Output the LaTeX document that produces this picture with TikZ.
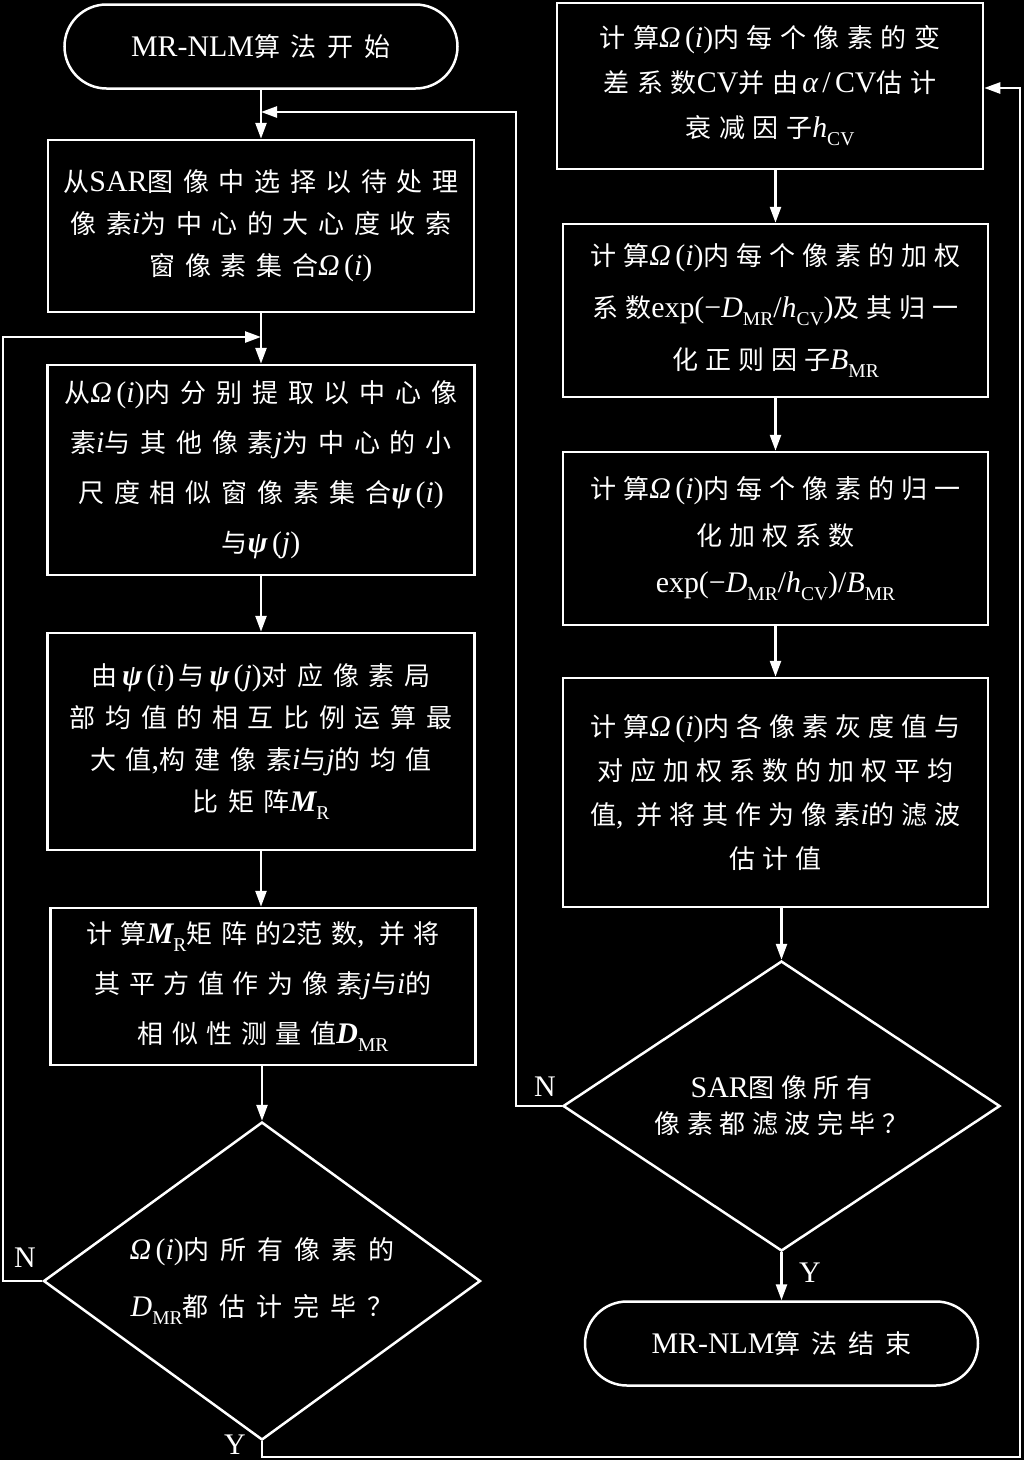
\documentclass[tikz,border=0pt]{standalone}
\usepackage{fontspec}
\usetikzlibrary{arrows.meta,shapes.geometric,shapes.misc}
\setmainfont{Noto Sans CJK SC}[LetterSpace=33]
\newfontfamily\lsA{Noto Sans CJK SC}[LetterSpace=25]
\newfontfamily\lsB{Noto Sans CJK SC}[LetterSpace=27]
\newfontfamily\lsC{Noto Sans CJK SC}[LetterSpace=29]
\newfontfamily\lsD{Noto Sans CJK SC}[LetterSpace=33]
\newfontfamily\lsE{Noto Sans CJK SC}[LetterSpace=37]
\newfontfamily\lsF{Noto Sans CJK SC}[LetterSpace=38]
\newfontfamily\lsG{Noto Sans CJK SC}[LetterSpace=42]
\newfontfamily\enfont{Liberation Serif}[Scale=1.15]
\newcommand\en[1]{{\enfont #1}}
\newcommand\mi[1]{{\enfont\itshape #1}}
\newcommand\mbi[1]{{\enfont\bfseries\itshape #1}}
\newcommand\sub[1]{\raisebox{-0.3em}{\enfont\fontsize{17}{18}\selectfont #1}}
\newcommand\Oi{\mi{Ω}\,\en{(}\mi{i}\en{)}}
\newcommand\fsz[1]{\fontsize{26}{#1}\selectfont}
\newcommand\ExpD{\en{exp(−}\mi{D}\sub{MR}\en{/}\mi{h}\sub{CV}\en{)}}
\tikzset{
  proc/.style={draw=white, rectangle, align=center, inner sep=0pt, text=white},
  term/.style={draw=white, rounded rectangle, minimum width=393pt, minimum height=84pt, inner sep=0pt, text=white, font=\lsG\fsz{30}},
  dec/.style={draw=white, diamond, align=center, inner sep=0pt, text=white},
  lab/.style={text=white, inner sep=0pt, font=\enfont\fsz{28}},
  conn/.style={draw=white, ->},
}
\begin{document}
\begin{tikzpicture}[x=1pt,y=-1pt,line width=2.5pt,>={Triangle[length=16pt,width=11pt]}]
\useasboundingbox (0,0) rectangle (1024,1460);
\fill[black] (0,0) rectangle (1024,1460);

% left column
\node[term] (start) at (261,46.5) {\en{MR-NLM}算法开始};
\node[proc, minimum width=426pt, minimum height=172pt, font=\lsE\fsz{42}] (b1) at (261,226)
  {从\en{SAR}图像中选择以待处理\\像素\mi{i}为中心的大心度收索\\窗像素集合\Oi};
\node[proc, minimum width=427pt, minimum height=210pt, font=\lsF\fsz{50}] (b2) at (261,470)
  {从\Oi 内分别提取以中心像\\素\mi{i}与其他像素\mi{j}为中心的小\\尺度相似窗像素集合\mbi{ψ}\,\en{(}\mi{i}\en{)}\\与\mbi{ψ}\,\en{(}\mi{j}\en{)}};
\node[proc, minimum width=427pt, minimum height=217pt, font=\lsE\fsz{42}] (b3) at (261,741.5)
  {由\,\mbi{ψ}\,\en{(}\mi{i}\en{)}\,与\,\mbi{ψ}\,\en{(}\mi{j}\en{)}对应像素局\\部均值的相互比例运算最\\大值\en{,}构建像素\mi{i}与\mi{j}的均值\\比矩阵\mbi{M}\sub{R}};
\node[proc, minimum width=425pt, minimum height=157pt, font=\lsD\fsz{50}] (b4) at (263,986.5)
  {计算\mbi{M}\sub{R}矩阵的\en{2}范数\en{,} 并将\\其平方值作为像素\mi{j}与\mi{i}的\\相似性测量值\mbi{D}\sub{MR}};
\node[dec, minimum width=437pt, minimum height=318pt, aspect=1.37, font=\lsG\fsz{57}] (d1) at (262,1281)
  {\Oi 内所有像素的\\\mi{D}\sub{MR}都估计完毕？};

% right column
\node[proc, minimum width=426pt, minimum height=166pt, font=\lsC\fsz{45}] (r1) at (770,86)
  {计算\Oi 内每个像素的变\\差系数\en{CV}并由\,\mi{α}\,\en{/}\,\en{CV}估计\\衰减因子\mi{h}\sub{CV}};
\node[proc, minimum width=425pt, minimum height=173pt, font=\lsB\fsz{52}] (r2) at (775.5,310.5)
  {计算\Oi 内每个像素的加权\\系数\ExpD 及其归一\\化正则因子\mi{B}\sub{MR}};
\node[proc, minimum width=425pt, minimum height=173pt, font=\lsB\fsz{47}] (r3) at (775.5,538.5)
  {计算\Oi 内每个像素的归一\\化加权系数\\\ExpD\en{/}\mi{B}\sub{MR}};
\node[proc, minimum width=425pt, minimum height=229pt, font=\lsB\fsz{44}] (r4) at (775.5,792.5)
  {计算\Oi 内各像素灰度值与\\对应加权系数的加权平均\\值\en{,} 并将其作为像素\mi{i}的滤波\\估计值};
\node[dec, minimum width=437pt, minimum height=290pt, aspect=1.5, font=\lsA\fsz{36}] (d2) at (781.5,1106)
  {\en{SAR}图像所有\\像素都滤波完毕？};
\node[term] (end) at (781.5,1343.5) {\en{MR-NLM}算法结束};

% labels
\node[lab] (n1) at (25,1258) {N};
\node[lab] (y1) at (235,1445) {Y};
\node[lab] (n2) at (545,1087) {N};
\node[lab] (y2) at (810,1273) {Y};

% helper coordinates
\coordinate (j1) at (261,112);
\coordinate (c1) at (516,112);
\coordinate (j2) at (261,337);
\coordinate (c2) at (3,337);
\coordinate (c3) at (262,1457);
\coordinate (c4) at (1020,1457);
\coordinate (c5) at (1020,88);

% connectors
\draw[conn] (start.south) -- (b1.north);
\draw[conn] (d2.west) -| (c1) -- (j1);
\draw[conn] (b1.south) -- (b2.north);
\draw[conn] (d1.west) -| (c2) -- (j2);
\draw[conn] (b2.south) -- (b3.north);
\draw[conn] (b3.south) -- (b4.north -| b3.south);
\draw[conn] (b4.south -| d1.north) -- (d1.north);
\draw[conn] (d1.south) -- (c3) -- (c4) -- (c5) -- (r1.east |- c5);
\draw[conn] (r2.north |- r1.south) -- (r2.north);
\draw[conn] (r2.south) -- (r3.north);
\draw[conn] (r3.south) -- (r4.north);
\draw[conn] (d2.north |- r4.south) -- (d2.north);
\draw[conn] (d2.south) -- (end.north);
\end{tikzpicture}
\end{document}
